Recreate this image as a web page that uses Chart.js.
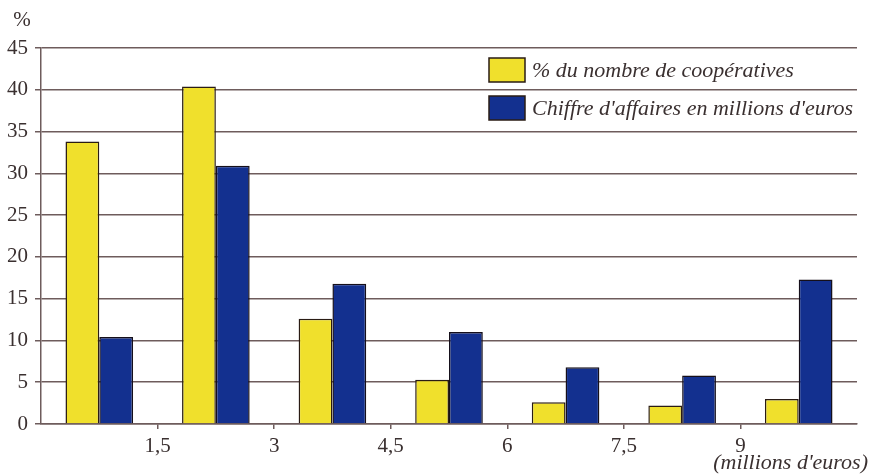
<!DOCTYPE html>
<html>
<head>
<meta charset="utf-8">
<script src="https://cdn.jsdelivr.net/npm/chart.js@4.4.1/dist/chart.umd.min.js"></script>
<style>
	html, body { margin: 0; padding: 0; background: #fff; }
	#wrap { width: 884px; height: 476px; }
</style>
</head>
<body>
<div id="wrap"><canvas id="canvasCoop" width="884" height="476"></canvas></div>
<script>
"use strict";

// data
var categories = ['0-1,5', '1,5-3', '3-4,5', '4,5-6', '6-7,5', '7,5-9', '9+'];
var tickValues = [1.5, 3, 4.5, 6, 7.5, 9];
var pctCooperatives = [33.8, 40.4, 12.6, 5.3, 2.6, 2.2, 3.0];
var chiffreAffaires = [10.4, 30.9, 16.8, 11.0, 6.8, 5.8, 17.3];
var seriesLabels = ['% du nombre de coopératives', "Chiffre d'affaires en millions d'euros"];

var serif = "'Liberation Serif', 'DejaVu Serif', serif";
var gridColor = '#6e5c5c';
var textColor = '#3a3030';

// legend inside the plot + the "%" and unit labels
var extraText = {
	id: 'extraText',
	afterDraw: function (chart) {
		var ctx = chart.ctx;
		ctx.save();
		ctx.fillStyle = textColor;
		ctx.font = '21px ' + serif;
		ctx.textAlign = 'center';
		ctx.textBaseline = 'middle';
		ctx.fillText('%', 22, 20);

		ctx.font = 'italic 22px ' + serif;
		ctx.textAlign = 'right';
		ctx.fillText("(millions d'euros)", 868, 463);

		var items = [70, 108];
		chart.data.datasets.forEach(function (ds, i) {
			var y = items[i];
			ctx.fillStyle = ds.backgroundColor;
			ctx.fillRect(489, y - 12, 36, 24);
			ctx.strokeStyle = '#2a1c14';
			ctx.lineWidth = 1.5;
			ctx.strokeRect(489, y - 12, 36, 24);
			ctx.fillStyle = textColor;
			ctx.font = 'italic 22px ' + serif;
			ctx.textAlign = 'left';
			ctx.fillText(ds.label, 532, y + 1);
		});
		ctx.restore();
	}
};

const context = document.getElementById('canvasCoop');
const myChart = new Chart(context, {
	type: 'bar',
	data: {
		labels: categories,
		datasets: [{
			label: seriesLabels[0],
			data: pctCooperatives,
			backgroundColor: '#f0e02c',
			borderColor: '#2a1c14',
			borderWidth: 1.5,
			xAxisID: 'x',
			barPercentage: 1,
			categoryPercentage: 0.58
		}, {
			label: seriesLabels[1],
			data: chiffreAffaires,
			backgroundColor: '#13308f',
			borderColor: '#150f1a',
			borderWidth: 1.5,
			xAxisID: 'x',
			barPercentage: 1,
			categoryPercentage: 0.58
		}]
	},
	options: {
		responsive: false,
		animation: false,
		layout: { padding: { left: 0, right: 27, top: 48, bottom: 0 } },
		plugins: {
			legend: { display: false },
			tooltip: { enabled: false }
		},
		scales: {
			x: {
				type: 'category',
				display: false,
				offset: true
			},
			x2: {
				type: 'linear',
				position: 'bottom',
				offset: false,
				min: 0,
				max: categories.length * 1.5,
				afterBuildTicks: function (scale) {
					scale.ticks = tickValues.map(function (v) { return { value: v }; });
				},
				afterFit: function (scale) { scale.height = 52; },
				grid: { offset: false, drawOnChartArea: false, drawTicks: true, tickLength: 5, color: gridColor, lineWidth: 1.5 },
				border: { display: true, color: gridColor, width: 1.5 },
				ticks: {
					color: textColor,
					padding: 5,
					maxRotation: 0,
					autoSkip: false,
					font: { family: serif, size: 21 },
					callback: function (v) { return String(v).replace('.', ','); }
				}
			},
			y: {
				min: 0,
				max: 45,
				afterFit: function (scale) { scale.width = 41; },
				grid: { color: gridColor, lineWidth: 1.5, tickLength: 6 },
				border: { display: true, color: gridColor, width: 1.5 },
				ticks: {
					stepSize: 5,
					color: textColor,
					padding: 7,
					font: { family: serif, size: 21 }
				}
			}
		}
	},
	plugins: [extraText]
});
</script>
</body>
</html>
